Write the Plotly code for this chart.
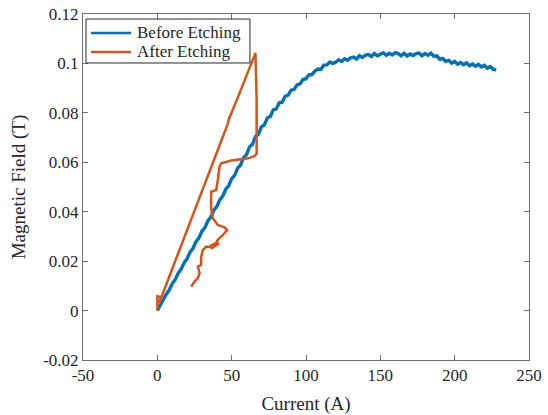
import plotly.graph_objects as go

# Before etching: field vs. current, sampled every 2 A
before_current = list(range(0, 230, 2))
before_field = [
    0.0000, 0.0023, 0.0040, 0.0066, 0.0083, 0.0108, 0.0125, 0.0151, 0.0168, 0.0193,
    0.0210, 0.0236, 0.0252, 0.0279, 0.0294, 0.0321, 0.0336, 0.0363, 0.0379, 0.0406,
    0.0421, 0.0448, 0.0463, 0.0491, 0.0505, 0.0534, 0.0547, 0.0576, 0.0589, 0.0619,
    0.0631, 0.0662, 0.0673, 0.0704, 0.0714, 0.0743, 0.0751, 0.0779, 0.0785, 0.0812,
    0.0816, 0.0841, 0.0843, 0.0867, 0.0872, 0.0892, 0.0895, 0.0913, 0.0917, 0.0935,
    0.0938, 0.0954, 0.0955, 0.0969, 0.0977, 0.0976, 0.0993, 0.0994, 0.1006, 0.1000,
    0.1005, 0.1015, 0.1008, 0.1019, 0.1013, 0.1023, 0.1026, 0.1018, 0.1031, 0.1024,
    0.1034, 0.1036, 0.1028, 0.1040, 0.1031, 0.1039, 0.1043, 0.1033, 0.1041, 0.1034,
    0.1044, 0.1040, 0.1031, 0.1041, 0.1030, 0.1038, 0.1032, 0.1040, 0.1042, 0.1031,
    0.1040, 0.1033, 0.1041, 0.1029, 0.1031, 0.1017, 0.1020, 0.1008, 0.1013, 0.1001,
    0.1008, 0.0997, 0.1004, 0.0995, 0.1002, 0.0991, 0.0998, 0.0989, 0.0996, 0.0986,
    0.0992, 0.0981, 0.0987, 0.0976, 0.0974,
]

# After etching: ramp up, drop at constant current, then wander back down
after_current = [
    0.0, 0.0, 2.5, 1.2, 8.0, 18.3, 30.0, 40.7, 47.5, 48.4, 48.2, 56.0, 65.3, 66.0,
    66.8, 67.2, 67.0, 66.8, 65.0, 61.0, 56.4, 49.7, 43.0, 41.8, 40.7, 39.6, 36.2,
    36.2, 37.3, 40.7, 45.2, 47.0, 44.1, 40.7, 38.5, 41.5, 36.0, 40.8, 35.5, 38.0,
    32.9, 30.6, 29.5, 29.5, 27.3, 28.4, 27.3, 25.0, 22.8,
]
after_field = [
    0.0000, 0.0058, 0.0055, 0.0030, 0.0137, 0.0298, 0.0482, 0.0650, 0.0757, 0.0784,
    0.0775, 0.0890, 0.1036, 0.1042, 0.0850, 0.0670, 0.0650, 0.0635, 0.0624, 0.0616,
    0.0612, 0.0607, 0.0596, 0.0582, 0.0529, 0.0488, 0.0481, 0.0414, 0.0374, 0.0346,
    0.0337, 0.0326, 0.0306, 0.0286, 0.0265, 0.0272, 0.0250, 0.0277, 0.0262, 0.0255,
    0.0259, 0.0245, 0.0218, 0.0185, 0.0178, 0.0151, 0.0131, 0.0117, 0.0097,
]

series_names = ["Before Etching", "After Etching"]

x_ticks = [-50, 0, 50, 100, 150, 200, 250]
x_tick_text = ["-50", "0", "50", "100", "150", "200", "250"]
y_ticks = [-0.02, 0, 0.02, 0.04, 0.06, 0.08, 0.1, 0.12]
y_tick_text = ["-0.02", "0", "0.02", "0.04", "0.06", "0.08", "0.1", "0.12"]

BLUE = "#0072BD"
ORANGE = "#D95319"
AXIS = "#6e6e6e"
TEXT = "#262626"
FONT = "Liberation Serif"

fig = go.Figure()
fig.add_trace(go.Scatter(
    x=before_current, y=before_field, mode="lines", name=series_names[0],
    line=dict(color=BLUE, width=3.4), showlegend=False,
))
fig.add_trace(go.Scatter(
    x=after_current, y=after_field, mode="lines", name=series_names[1],
    line=dict(color=ORANGE, width=2.5), showlegend=False,
))

# Compact boxed legend in the upper-left corner (paper coordinates)
box_x0, box_x1 = 0.0067, 0.3744
box_y0, box_y1 = 0.8584, 0.9855
sample_x0, sample_x1 = 0.0179, 0.1076
label_x = 0.1166
row_y = [0.9451, 0.8902]

fig.add_shape(type="rect", xref="paper", yref="paper",
              x0=box_x0, x1=box_x1, y0=box_y0, y1=box_y1,
              line=dict(color=TEXT, width=1), fillcolor="white", layer="above")
for name, color, yy in zip(series_names, [BLUE, ORANGE], row_y):
    fig.add_shape(type="line", xref="paper", yref="paper",
                  x0=sample_x0, x1=sample_x1, y0=yy, y1=yy,
                  line=dict(color=color, width=2.5), layer="above")
    fig.add_annotation(xref="paper", yref="paper", x=label_x, y=yy,
                       xanchor="left", yanchor="middle", showarrow=False,
                       text=name, font=dict(family=FONT, size=17, color=TEXT))

axis_common = dict(
    showline=True, linecolor=AXIS, linewidth=1, mirror="allticks",
    ticks="inside", ticklen=5, tickcolor=AXIS, showgrid=False, zeroline=False,
    automargin=False,
    tickfont=dict(family=FONT, size=17, color=TEXT),
)

fig.update_layout(
    width=548, height=415,
    margin=dict(l=83, r=19, t=14, b=55),
    paper_bgcolor="white", plot_bgcolor="white",
    font=dict(family=FONT, color=TEXT),
    xaxis=dict(
        range=[-50, 250], tickvals=x_ticks, ticktext=x_tick_text,
        title=dict(text="Current (A)", font=dict(family=FONT, size=19, color=TEXT), standoff=12),
        **axis_common,
    ),
    yaxis=dict(
        range=[-0.02, 0.12], tickvals=y_ticks, ticktext=y_tick_text,
        title=dict(text="Magnetic Field (T)", font=dict(family=FONT, size=19, color=TEXT), standoff=12),
        **axis_common,
    ),
    showlegend=False,
)

fig.write_html("out.html")
